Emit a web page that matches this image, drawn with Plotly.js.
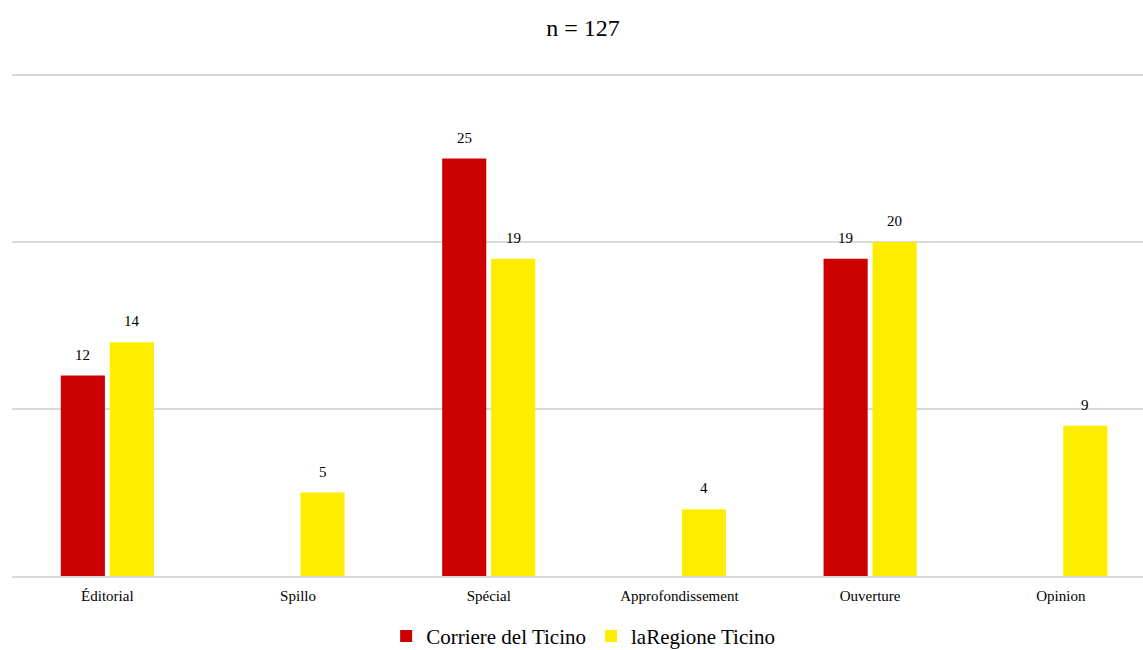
<!DOCTYPE html>
<html><head><meta charset="utf-8">
<script src="https://cdn.plot.ly/plotly-3.0.1.min.js"></script>
<style>html,body{margin:0;padding:0;background:#fff}#c{width:1143px;height:650px}</style>
</head><body><div id="c"></div>
<script>
var categories = ["Éditorial", "Spillo", "Spécial", "Approfondissement", "Ouverture", "Opinion"];
var corriere = [12, null, 25, null, 19, null];
var laregione = [14, 5, 19, 4, 20, 9];
var seriesNames = ["Corriere del Ticino", "laRegione Ticino"];
var font = "'Liberation Serif', 'Times New Roman', serif";
var traces = [
  {type: "bar", name: seriesNames[0], x: categories, y: corriere, marker: {color: "#CC0000"}},
  {type: "bar", name: seriesNames[1], x: categories, y: laregione, marker: {color: "#FFED00"}}
];
var annotations = [];
[corriere, laregione].forEach(function(arr, si){
  arr.forEach(function(v, i){
    if (v == null) return;
    annotations.push({x: categories[i], y: v, xref: "x", yref: "y", text: String(v), showarrow: false,
      xshift: si === 0 ? -24.5 : 24.5, yshift: 21, font: {family: font, size: 15, color: "#000"}});
  });
});
var layout = {
  width: 1143, height: 650,
  margin: {l: 12, r: 0, t: 73, b: 74},
  paper_bgcolor: "#fff", plot_bgcolor: "#fff",
  font: {family: font, color: "#000"},
  title: {text: "n = 127", font: {family: font, size: 24, color: "#000"}, x: 0.51, xanchor: "center", y: 0.957, yanchor: "middle"},
  barmode: "group", bargap: 0.486, bargroupgap: 0.1,
  annotations: annotations,
  xaxis: {range: [-0.5, 5.431], tickfont: {family: font, size: 15, color: "#000"}, showline: true, linecolor: "#d9d9d9", linewidth: 2, ticks: "", showgrid: false, ticklabelstandoff: 5},
  yaxis: {range: [0, 30.12], tickvals: [10, 20, 30], showticklabels: false, showgrid: true, gridcolor: "#d9d9d9", gridwidth: 2, zeroline: false, ticks: ""},
  legend: {orientation: "h", x: 0.505, xanchor: "center", yref: "container", y: 0.021, yanchor: "middle", font: {family: font, size: 21, color: "#000"}, itemwidth: 30, traceorder: "normal"},
  showlegend: true
};
Plotly.newPlot("c", traces, layout, {displayModeBar: false, staticPlot: true});
</script></body></html>
